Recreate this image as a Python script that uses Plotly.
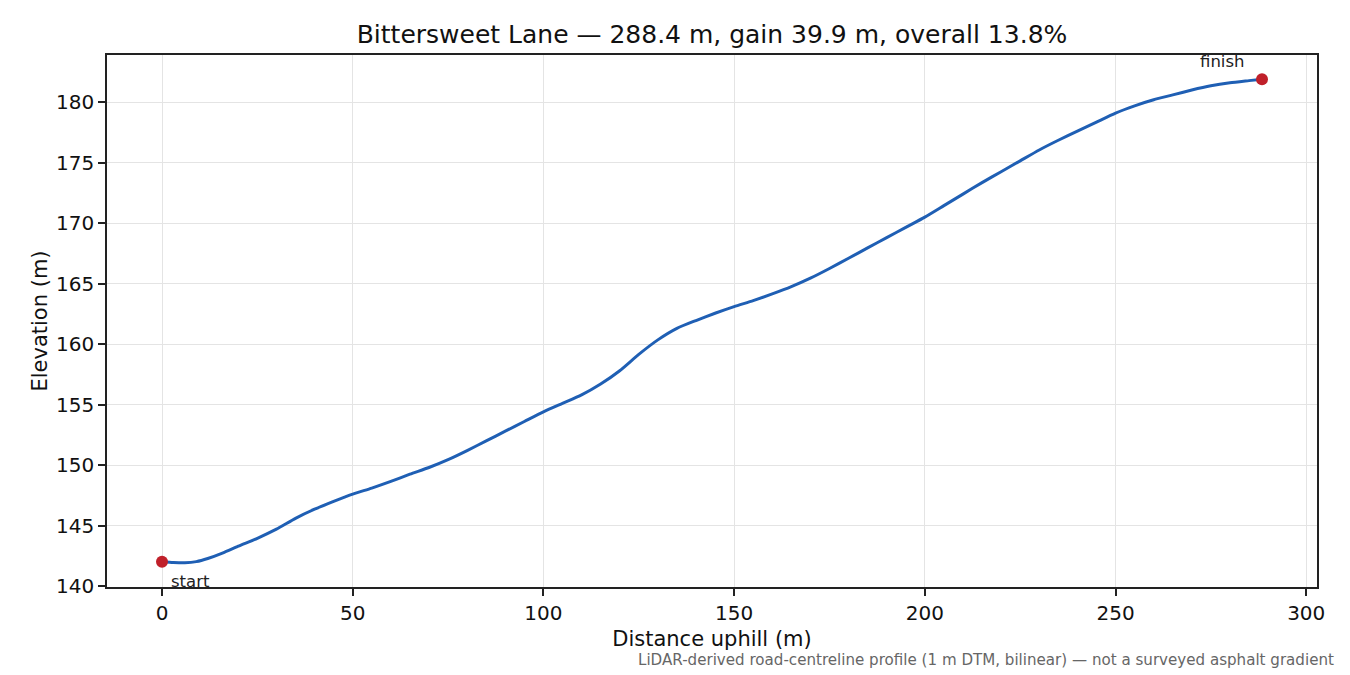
import plotly.graph_objects as go

distance_m = [0, 3, 6, 9, 12, 16, 20, 25, 30, 35, 40, 45, 50, 55, 60, 65, 70, 75, 80, 85,
              90, 95, 100, 105, 110, 115, 120, 125, 130, 135, 140, 145, 150, 155, 160, 165,
              170, 175, 180, 185, 190, 195, 200, 205, 210, 215, 220, 225, 230, 235, 240,
              245, 250, 255, 260, 265, 270, 275, 280, 285, 288.4]
elevation_m = [142.00, 141.94, 141.92, 142.02, 142.28, 142.75, 143.30, 143.95, 144.70, 145.60,
               146.35, 147.00, 147.60, 148.10, 148.65, 149.25, 149.80, 150.45, 151.20, 152.00,
               152.80, 153.60, 154.40, 155.10, 155.80, 156.70, 157.80, 159.15, 160.35, 161.30,
               161.95, 162.55, 163.10, 163.60, 164.15, 164.75, 165.45, 166.25, 167.10, 167.95,
               168.80, 169.65, 170.50, 171.45, 172.40, 173.35, 174.25, 175.15, 176.05, 176.85,
               177.60, 178.35, 179.10, 179.70, 180.20, 180.60, 181.00, 181.35, 181.60, 181.78,
               181.90]
endpoint_labels = ["start", "finish"]
x_ticks = [0, 50, 100, 150, 200, 250, 300]
y_ticks = [140, 145, 150, 155, 160, 165, 170, 175, 180]

title_text = "Bittersweet Lane — 288.4 m, gain 39.9 m, overall 13.8%"
footnote = "LiDAR-derived road-centreline profile (1 m DTM, bilinear) — not a surveyed asphalt gradient"

FONT = "DejaVu Sans"
LINE_C = "#1f5fb4"
PT_C = "#c0202a"

fig = go.Figure()
fig.add_trace(go.Scatter(x=distance_m, y=elevation_m, mode="lines",
                         line=dict(color=LINE_C, width=3, shape="spline", smoothing=0.6),
                         showlegend=False, hoverinfo="skip"))
fig.add_trace(go.Scatter(x=[distance_m[0], distance_m[-1]], y=[elevation_m[0], elevation_m[-1]],
                         mode="markers", marker=dict(color=PT_C, size=12),
                         showlegend=False, hoverinfo="skip"))

span_x = distance_m[-1] - distance_m[0]
ymin, ymax = min(elevation_m), max(elevation_m)
span_y = ymax - ymin

fig.add_annotation(x=distance_m[0], y=elevation_m[0], text=endpoint_labels[0], showarrow=False,
                   xanchor="left", yanchor="middle", xshift=7, yshift=-20,
                   font=dict(family=FONT, size=16.5, color="#222222"))
fig.add_annotation(x=distance_m[-1], y=elevation_m[-1], text=endpoint_labels[1], showarrow=False,
                   xanchor="center", yanchor="middle", xshift=-40, yshift=18,
                   font=dict(family=FONT, size=16.5, color="#222222"))
fig.add_annotation(x=1, y=0, xref="paper", yref="paper", text=footnote, showarrow=False,
                   xanchor="right", yanchor="middle", xshift=19, yshift=-73,
                   font=dict(family=FONT, size=15.1, color="#666666"))

axis_common = dict(showline=True, linecolor="#222222", linewidth=1.6, mirror=True,
                   ticks="outside", ticklen=7, tickwidth=1.5, tickcolor="#222222",
                   showgrid=True, gridcolor="#e4e4e4", gridwidth=1.2, zeroline=False,
                   tickfont=dict(family=FONT, size=20, color="#111111"))

fig.update_layout(
    width=1350, height=675,
    paper_bgcolor="white", plot_bgcolor="white",
    margin=dict(l=99, r=41, t=47, b=96),
    title=dict(text=title_text, x=0.5, xref="paper", xanchor="center", y=1 - 26 / 675,
               yanchor="middle", font=dict(family=FONT, size=25, color="#111111")),
    xaxis=dict(range=[distance_m[0] - 0.05 * span_x, distance_m[-1] + 0.05 * span_x],
               tickvals=x_ticks, ticktext=[str(v) for v in x_ticks],
               title=dict(text="Distance uphill (m)", font=dict(family=FONT, size=21, color="#111111"),
                          standoff=8),
               **axis_common),
    yaxis=dict(range=[ymin - 0.05 * span_y, ymax + 0.05 * span_y],
               tickvals=y_ticks, ticktext=[str(v) for v in y_ticks],
               title=dict(text="Elevation (m)", font=dict(family=FONT, size=21, color="#111111"),
                          standoff=3),
               **axis_common),
)

fig.write_html("out.html")
